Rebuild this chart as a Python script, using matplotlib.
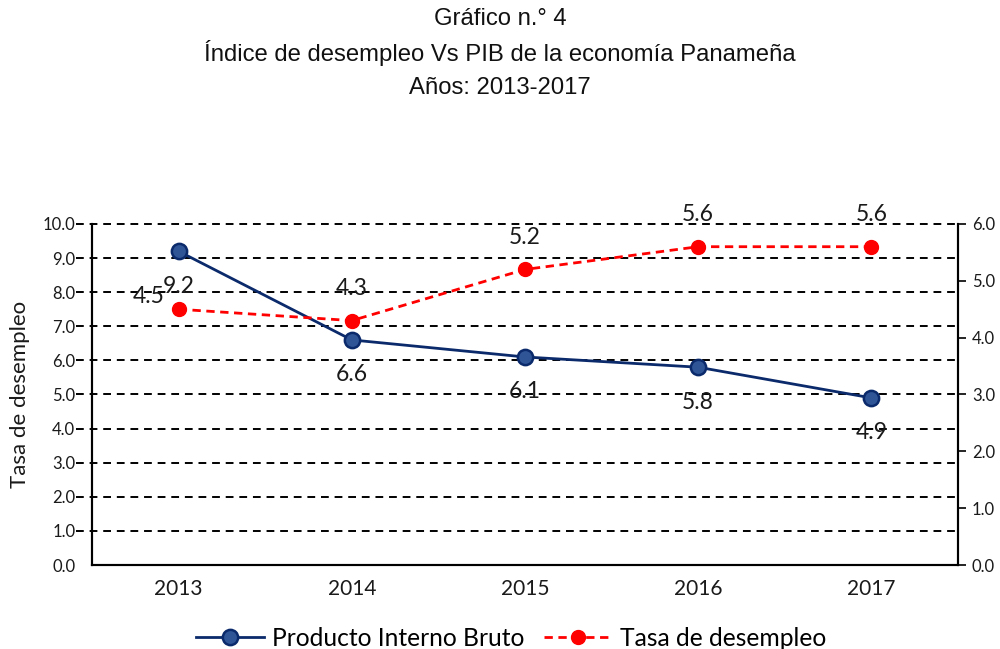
import matplotlib
matplotlib.use("Agg")
import matplotlib.pyplot as plt
from matplotlib.lines import Line2D

years = ["2013", "2014", "2015", "2016", "2017"]
pib = [9.2, 6.6, 6.1, 5.8, 4.9]
desempleo = [4.5, 4.3, 5.2, 5.6, 5.6]
left_ticks = [0, 1, 2, 3, 4, 5, 6, 7, 8, 9, 10]
right_ticks = [0, 1, 2, 3, 4, 5, 6]

title_lines = ["Gráfico n.° 4",
               "Índice de desempleo Vs PIB de la economía Panameña",
               "Años: 2013-2017"]

body_font = ["Lato", "DejaVu Sans"]
title_font = ["Liberation Sans", "DejaVu Sans"]

fig = plt.figure(figsize=(10, 6.49), dpi=100)
ax = fig.add_axes([0.092, 0.1294, 0.866, 0.5255])
ax2 = ax.twinx()

x = list(range(len(years)))
blue_line = "#0B2A6B"
blue_fill = "#2F5597"
red = "#FF0000"
txt = "#1A1A1A"

# gridlines (extended slightly left of the spine, like the reference)
for t in left_ticks[1:]:
    ax.plot([-0.018, 1.0], [t, t], transform=ax.get_yaxis_transform(),
            color="black", lw=1.4, ls=(0, (4, 3)), clip_on=False, zorder=1)

ax.plot(x, pib, color=blue_line, lw=2, marker="o", ms=11,
        markerfacecolor=blue_fill, markeredgecolor=blue_line, markeredgewidth=1.8, zorder=4)
ax2.plot(x, desempleo, color=red, lw=2, ls=(0, (3, 2)), marker="o", ms=10,
         markerfacecolor=red, markeredgecolor=red, zorder=4)

ax.set_xlim(-0.5, 4.5)
ax.set_ylim(0, 10)
ax2.set_ylim(0, 6)
ax.set_xticks(x)
ax.set_xticklabels(years, fontsize=15, family=body_font, color=txt)
ax.set_yticks(left_ticks)
ax.set_yticklabels([f"{v:.1f}" for v in left_ticks], fontsize=12, family=body_font, color=txt)
ax2.set_yticks(right_ticks)
ax2.set_yticklabels([f"{v:.1f}" for v in right_ticks], fontsize=12, family=body_font, color=txt)

ax.tick_params(axis="x", length=0, pad=10)
ax.tick_params(axis="y", length=0, pad=12)
ax2.tick_params(axis="y", length=6, width=1.2, pad=4)

for a in (ax, ax2):
    a.spines["top"].set_visible(False)
    for s in ("left", "bottom", "right"):
        a.spines[s].set_linewidth(1.5)
        a.spines[s].set_color("black")

ax.set_ylabel("Tasa de desempleo", fontsize=16, family=body_font, labelpad=9, color=txt)

# data labels
for xi, v in zip(x, pib):
    ax.annotate(f"{v:.1f}", (xi, v), xytext=(0, -35), textcoords="offset pixels",
                ha="center", va="center", fontsize=16.5, family=body_font, color=txt, zorder=5)
for i, (xi, v) in enumerate(zip(x, desempleo)):
    off = (-30, 13) if i == 0 else (0, 32)
    ax2.annotate(f"{v:.1f}", (xi, v), xytext=off, textcoords="offset pixels",
                 ha="center", va="center", fontsize=16.5, family=body_font, color=txt, zorder=5)

# title
for i, line in enumerate(title_lines):
    fig.text(0.5, 1 - (19 + i * 34.5) / 649, line, ha="center", va="center",
             fontsize=17.2, family=title_font, color="#111111")

handles = [Line2D([], [], color=blue_line, lw=2, marker="o", ms=11,
                  markerfacecolor=blue_fill, markeredgecolor=blue_line, markeredgewidth=1.8),
           Line2D([], [], color=red, lw=2, ls=(0, (3, 2)), marker="o", ms=10,
                  markerfacecolor=red, markeredgecolor=red)]
fig.legend(handles, ["Producto Interno Bruto", "Tasa de desempleo"], loc="center",
           bbox_to_anchor=(0.511, 1 - 638 / 649), ncol=2, frameon=False,
           prop={"family": body_font, "size": 17.7}, handlelength=2.8,
           columnspacing=0.8, handletextpad=0.3)

fig.savefig("out.png", dpi=100)
